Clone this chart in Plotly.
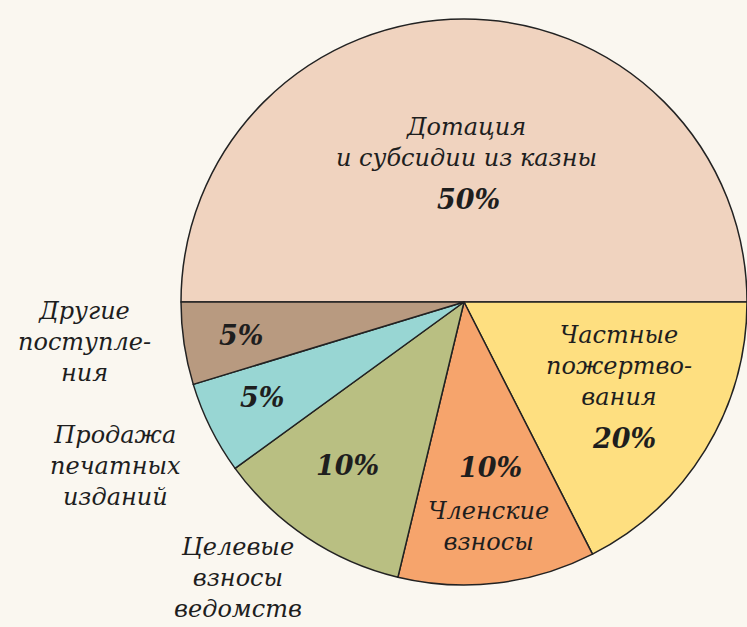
import plotly.graph_objects as go

# Categories (clockwise from 9 o'clock)
categories = ["Дотация и субсидии из казны", "Частные пожертвования", "Членские взносы",
              "Целевые взносы ведомств", "Продажа печатных изданий", "Другие поступления"]
# Slice shares as drawn in the picture (percent of the circle)
drawn_shares = [50.0, 17.5, 11.25, 11.25, 5.3, 4.7]
# Printed percentage labels
pct_labels = ["50%", "20%", "10%", "10%", "5%", "5%"]
colors = ["#f0d3bf", "#fedf80", "#f6a46c", "#b9bf82", "#98d6d3", "#b89a80"]

W, H = 747, 627
BG = "#faf7f0"

def px(x, y):
    return x / W, 1 - y / H

cx, cy, r = 464, 302, 283
x0, y0 = px(cx - r, cy + r)
x1, y1 = px(cx + r, cy - r)

fig = go.Figure(go.Pie(
    labels=categories, values=drawn_shares, sort=False, direction="clockwise",
    rotation=270, marker=dict(colors=colors, line=dict(color="#222222", width=1.5)),
    textinfo="none", hoverinfo="skip", showlegend=False,
    domain=dict(x=[x0, x1], y=[y0, y1]),
))

FAM = "DejaVu Serif"
name_font = dict(family=FAM, size=24, color="#1e1e1e", style="italic")
pct_font = dict(family=FAM, size=27, color="#1e1e1e", style="italic", weight="bold")

anns = [
    ("Дотация<br>и субсидии из казны", 466, 142, name_font),
    (pct_labels[0], 468, 200, pct_font),
    ("Частные<br>пожертво-<br>вания", 619, 366, name_font),
    (pct_labels[1], 624, 438, pct_font),
    (pct_labels[2], 490, 467, pct_font),
    ("Членские<br>взносы", 488, 526, name_font),
    (pct_labels[3], 347, 465, pct_font),
    (pct_labels[4], 262, 398, pct_font),
    (pct_labels[5], 241, 335, pct_font),
    ("Другие<br>поступле-<br>ния", 84, 342, name_font),
    ("Продажа<br>печатных<br>изданий", 115, 466, name_font),
    ("Целевые<br>взносы<br>ведомств", 238, 578, name_font),
]
for text, x, y, f in anns:
    ax, ay = px(x, y)
    fig.add_annotation(text=text, x=ax, y=ay, xref="paper", yref="paper",
                       xanchor="center", yanchor="middle", showarrow=False,
                       font=f, align="center")

fig.update_layout(width=W, height=H, margin=dict(l=0, r=0, t=0, b=0),
                  paper_bgcolor=BG, plot_bgcolor=BG)
fig.write_html("out.html", config={"displayModeBar": False},
               post_script="document.body.style.margin='0';document.body.style.background='%s';" % BG)
